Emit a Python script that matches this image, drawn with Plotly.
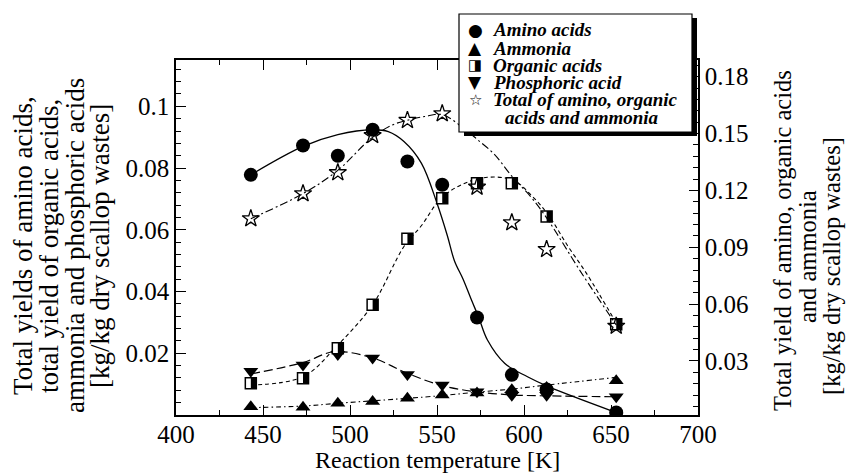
import plotly.graph_objects as go

# Reaction temperatures [K]
temperature = [443, 473, 493, 513, 533, 553, 573, 593, 613, 653]

# Measured yields [kg/kg dry scallop wastes]
amino_acids = [0.0778, 0.0873, 0.0840, 0.0924, 0.0821, 0.0746, 0.0316, 0.0130, 0.0083, 0.0008]
ammonia = [0.0027, 0.0025, 0.0038, 0.0044, 0.0054, 0.0065, 0.0071, 0.0082, 0.0089, 0.0111]
organic_acids = [0.0103, 0.0119, 0.0216, 0.0357, 0.0571, 0.0702, 0.0751, 0.0751, 0.0643, 0.0294]
phosphoric_acid = [0.0142, 0.0162, 0.0196, 0.0185, 0.0131, 0.0097, 0.0075, 0.0064, 0.0064, 0.0059]
total_yield = [0.1051, 0.1183, 0.1294, 0.1490, 0.1570, 0.1605, 0.1218, 0.1030, 0.0889, 0.0484]

# Trend curves
amino_fit_t = [443, 473, 493, 513, 522, 531, 541, 550, 556, 560, 565, 570, 574, 579, 589, 602, 614, 653]
amino_fit = [0.0778, 0.0870, 0.0908, 0.0924, 0.0918, 0.0886, 0.0816, 0.0686, 0.0580, 0.0500,
             0.0440, 0.0370, 0.0316, 0.0243, 0.0167, 0.0124, 0.0092, 0.0008]
ammonia_fit_t = [443, 473, 493, 513, 533, 553, 573, 593, 613, 653]
ammonia_fit = [0.0024, 0.0029, 0.0038, 0.0046, 0.0054, 0.0063, 0.0074, 0.0084, 0.0097, 0.0122]
organic_fit_t = [443, 473, 493, 513, 531, 541, 552, 564, 579, 594, 604, 614, 625, 636, 653]
organic_fit = [0.0097, 0.0124, 0.0227, 0.0357, 0.0546, 0.0613, 0.0700, 0.0746, 0.0770, 0.0760,
               0.0713, 0.0648, 0.0549, 0.0458, 0.0298]
phosphoric_fit_t = [443, 473, 491, 513, 533, 553, 573, 593, 613, 653]
phosphoric_fit = [0.0133, 0.0170, 0.0205, 0.0185, 0.0135, 0.0095, 0.0075, 0.0065, 0.0062, 0.0059]
total_fit_t = [443, 473, 493, 512, 524, 533, 543, 553, 565, 573, 583, 593, 604, 613, 633, 653]
total_fit = [0.1051, 0.1183, 0.1306, 0.1473, 0.1544, 0.1570, 0.1590, 0.1600, 0.1530, 0.1470,
             0.1390, 0.1275, 0.1165, 0.1055, 0.0765, 0.0490]

left_ticks = [0.02, 0.04, 0.06, 0.08, 0.1]
left_labels = ["0.02", "0.04", "0.06", "0.08", "0.1"]
right_ticks = [0.03, 0.06, 0.09, 0.12, 0.15, 0.18]
right_labels = ["0.03", "0.06", "0.09", "0.12", "0.15", "0.18"]

legend_symbols = ["\u25cf", "\u25b2", "\u25e8", "\u25bc", "\u2606"]
legend_labels = ["Amino acids", "Ammonia", "Organic acids", "Phosphoric acid",
                 "Total of amino, organic", "acids and ammonia"]

W, H = 846, 473
L, R, T, B = 176, 698, 60, 415
SERIF = "Liberation Serif, Times New Roman, serif"
INK = "black"


def px_x(x):
    return (x - L) / (R - L)


def px_y(y):
    return (B - y) / (B - T)


fig = go.Figure()

# trend curves
curve_specs = [
    (amino_fit_t, amino_fit, "solid", 1.3, "y"),
    (ammonia_fit_t, ammonia_fit, "5px,3px,1.5px,3px", 1.1, "y"),
    (organic_fit_t, organic_fit, "4px,3px", 1.1, "y"),
    (phosphoric_fit_t, phosphoric_fit, "9px,4px", 1.2, "y"),
    (total_fit_t, total_fit, "8px,3px,2px,3px", 1.1, "y2"),
]
for xs, ys, dash, w, ax in curve_specs:
    fig.add_trace(go.Scatter(x=xs, y=ys, mode="lines", yaxis=ax, showlegend=False,
                             line=dict(color=INK, width=w, dash=dash, shape="spline", smoothing=1.0),
                             hoverinfo="skip"))

# measured points
fig.add_trace(go.Scatter(x=temperature, y=total_yield, mode="markers", yaxis="y2", showlegend=False,
                         marker=dict(symbol="star-open", size=13, color=INK, line=dict(width=1.3, color=INK))))
fig.add_trace(go.Scatter(x=temperature, y=phosphoric_acid, mode="markers", showlegend=False,
                         marker=dict(symbol="triangle-down", size=13, color=INK)))
fig.add_trace(go.Scatter(x=temperature, y=ammonia, mode="markers", showlegend=False,
                         marker=dict(symbol="triangle-up", size=13, color=INK)))
fig.add_trace(go.Scatter(x=temperature, y=organic_acids, mode="markers", showlegend=False,
                         marker=dict(symbol="square", size=11, color="white",
                                     line=dict(width=1.5, color=INK))))
# right half of the organic-acid squares, drawn on a hidden axis offset by half a marker
half_shift = 2.75 * 300 / (R - L)
fig.add_trace(go.Scatter(x=temperature, y=organic_acids, mode="markers", xaxis="x3", showlegend=False,
                         marker=dict(symbol="line-ns", size=7.9, color=INK,
                                     line=dict(width=5.5, color=INK))))
fig.add_trace(go.Scatter(x=temperature, y=amino_acids, mode="markers", showlegend=False,
                         marker=dict(symbol="circle", size=14, color=INK)))

tickfont = dict(family=SERIF, size=25, color=INK)
fig.update_layout(
    width=W, height=H,
    margin=dict(l=L, r=W - R, t=T, b=H - B),
    paper_bgcolor="white", plot_bgcolor="white",
    showlegend=False,
    xaxis=dict(range=[400, 700], tick0=400, dtick=50, ticks="inside", ticklen=10, tickwidth=1.2,
               tickcolor=INK, showline=True, linewidth=1.5, linecolor=INK, mirror="ticks",
               showgrid=False, zeroline=False, tickfont=tickfont, ticklabelstandoff=-4,
               minor=dict(dtick=25, tick0=400, ticks="inside", ticklen=5, tickwidth=1.2, tickcolor=INK)),
    xaxis3=dict(range=[400 - half_shift, 700 - half_shift], overlaying="x", visible=False),
    yaxis=dict(range=[0, 0.115], tickmode="array", tickvals=left_ticks, ticktext=left_labels,
               ticks="inside", ticklen=10, tickwidth=1.2, tickcolor=INK, showline=True, linewidth=1.5,
               linecolor=INK, showgrid=False, zeroline=False, tickfont=tickfont,
               minor=dict(dtick=0.004, tick0=0, ticks="inside", ticklen=5, tickwidth=1.2, tickcolor=INK)),
    yaxis2=dict(range=[0.0015, 0.1888], overlaying="y", side="right", tickmode="array",
                tickvals=right_ticks, ticktext=right_labels, ticks="inside", ticklen=9, tickwidth=1.2,
                tickcolor=INK, showline=True, linewidth=1.5, linecolor=INK, showgrid=False,
                zeroline=False, tickfont=tickfont,
                minor=dict(dtick=0.006, tick0=0, ticks="inside", ticklen=5, tickwidth=1.2, tickcolor=INK)),
)

# legend box with drop shadow
box = (459, 14, 692, 132)
fig.add_shape(type="rect", xref="paper", yref="paper", layer="above",
              x0=px_x(box[0] + 5), x1=px_x(box[2] + 5), y0=px_y(box[1] + 4), y1=px_y(box[3] + 4),
              fillcolor=INK, line=dict(width=0))
fig.add_shape(type="rect", xref="paper", yref="paper", layer="above",
              x0=px_x(box[0]), x1=px_x(box[2]), y0=px_y(box[1]), y1=px_y(box[3]),
              fillcolor="white", line=dict(width=1.2, color=INK))

annotations = []
rows = [30, 48, 65, 82, 100, 117]
symbol_sizes = [17, 17, 15, 17, 15]
for sym, size, y in zip(legend_symbols, symbol_sizes, rows):
    annotations.append(dict(x=px_x(475), y=px_y(y), xref="paper", yref="paper", text=sym,
                            showarrow=False, xanchor="center", yanchor="middle",
                            font=dict(family="DejaVu Sans", size=size, color=INK)))
legend_font = dict(family=SERIF, size=19, color=INK, weight="bold", style="italic")
for i, (label, y) in enumerate(zip(legend_labels, rows)):
    annotations.append(dict(x=px_x(503 if i == 5 else 491), y=px_y(y), xref="paper", yref="paper",
                            text=label, showarrow=False, xanchor="left", yanchor="middle",
                            font=legend_font))

# axis titles
left_title = ["Total yields of amino acids,", "total yield of organic acids,",
              "ammonia and phosphoric acids", "[kg/kg dry scallop wastes]"]
for line, x in zip(left_title, [23, 49, 75, 100]):
    annotations.append(dict(x=px_x(x), y=px_y(246), xref="paper", yref="paper", text=line,
                            textangle=-90, showarrow=False, xanchor="center", yanchor="middle",
                            font=dict(family=SERIF, size=27, color=INK)))
right_title = ["Total yield of amino, organic acids", "and ammonia", "[kg/kg dry scallop wastes]"]
for line, x, y in zip(right_title, [782, 807, 831], [241, 257, 266]):
    annotations.append(dict(x=px_x(x), y=px_y(y), xref="paper", yref="paper", text=line,
                            textangle=-90, showarrow=False, xanchor="center", yanchor="middle",
                            font=dict(family=SERIF, size=24.5, color=INK)))
annotations.append(dict(x=px_x(437), y=px_y(460), xref="paper", yref="paper",
                        text="Reaction temperature [K]", showarrow=False, xanchor="center",
                        yanchor="middle", font=dict(family=SERIF, size=24, color=INK)))
fig.update_layout(annotations=annotations)

fig.write_html("out.html")
